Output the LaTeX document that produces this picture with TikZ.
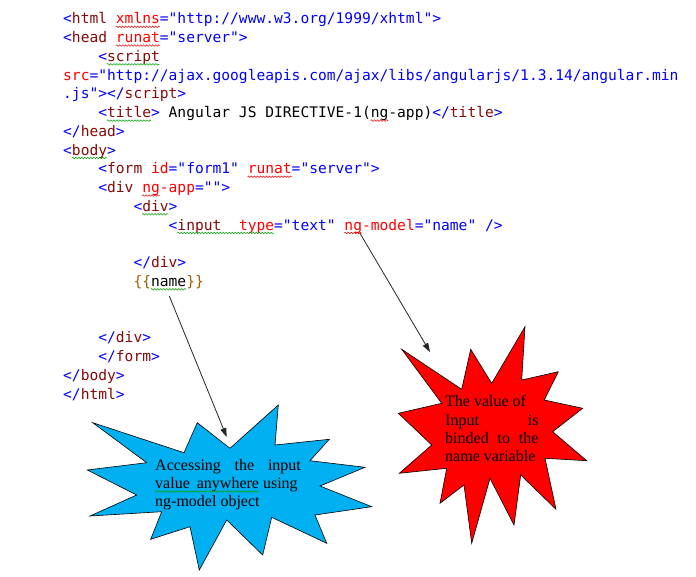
\documentclass[tikz,border=0pt]{standalone}
\usepackage{fontspec}
\setmainfont{Liberation Serif}
\newfontfamily\codefont{DejaVu Sans Mono}
\usetikzlibrary{arrows.meta,decorations.pathmorphing}
\definecolor{tagblue}{RGB}{0,0,255}
\definecolor{tagname}{RGB}{135,10,10}
\definecolor{attrred}{RGB}{255,0,0}
\definecolor{braceorg}{RGB}{160,95,0}
\definecolor{starblue}{RGB}{0,176,240}
\definecolor{starred}{RGB}{255,0,0}
\definecolor{squigG}{RGB}{0,160,0}
\definecolor{squigR}{RGB}{230,0,0}
\newcommand\hB[1]{\textcolor{tagblue}{#1}}
\newcommand\hM[1]{\textcolor{tagname}{#1}}
\newcommand\hR[1]{\textcolor{attrred}{#1}}
\newcommand\hO[1]{\textcolor{braceorg}{#1}}
\tikzset{
  codeline/.style={anchor=base west, inner sep=0pt, font=\codefont\fontsize{14.6}{18}\selectfont\frenchspacing},
  startext/.style={anchor=base west, inner sep=0pt, font=\fontsize{16}{18}\selectfont},
  squig/.style={line width=0.5pt, decorate, decoration={snake, amplitude=0.8pt, segment length=3pt}},
  bluestar/.style={fill=starblue, draw=black, line width=0.6pt, line join=miter},
  redstar/.style={fill=starred, draw=black, line width=0.6pt, line join=miter},
  pointer/.style={draw=black!85, line width=0.8pt, -{Triangle[length=9pt,width=6pt]}}
}
\newcommand\codeln[4]{\node[codeline] (#1) at ({63+#2*8.79},{24+#3*18.75}) {#4};}
\newcommand\squigl[4]{\draw[squig,#1] ({63+#2*8.79},{26.8+#4*18.75}) -- ({63+(#2+#3)*8.79},{26.8+#4*18.75});}
\begin{document}
\begin{tikzpicture}[x=1pt,y=-1pt]
\useasboundingbox (0,0) rectangle (696,577);
\fill[white] (0,0) rectangle (696,577);

% code lines
\codeln{l0}{0}{0}{\hB{<}\hM{html} \hR{xmlns}\hB{="http://www.w3.org/1999/xhtml">}}
\codeln{l1}{0}{1}{\hB{<}\hM{head} \hR{runat}\hB{="server">}}
\codeln{l2}{4}{2}{\hB{<}\hM{script}}
\codeln{l3}{0}{3}{\hR{src}\hB{="http://ajax.googleapis.com/ajax/libs/angularjs/1.3.14/angular.min}}
\codeln{l4}{0}{4}{\hB{.js"></}\hM{script}\hB{>}}
\codeln{l5}{4}{5}{\hB{<}\hM{title}\hB{>} Angular JS DIRECTIVE-1(ng-app)\hB{</}\hM{title}\hB{>}}
\codeln{l6}{0}{6}{\hB{</}\hM{head}\hB{>}}
\codeln{l7}{0}{7}{\hB{<}\hM{body}\hB{>}}
\codeln{l8}{4}{8}{\hB{<}\hM{form} \hR{id}\hB{="form1"} \hR{runat}\hB{="server">}}
\codeln{l9}{4}{9}{\hB{<}\hM{div} \hR{ng-app}\hB{="">}}
\codeln{l10}{8}{10}{\hB{<}\hM{div}\hB{>}}
\codeln{l11}{12}{11}{\hB{<}\hM{input}\ \ \hR{type}\hB{="text"} \hR{ng-model}\hB{="name"} \hB{/>}}
\codeln{l13}{8}{13}{\hB{</}\hM{div}\hB{>}}
\codeln{l14}{8}{14}{\hO{\{\{}name\hO{\}\}}}
\codeln{l17}{4}{17}{\hB{</}\hM{div}\hB{>}}
\codeln{l18}{4}{18}{\hB{</}\hM{form}\hB{>}}
\codeln{l19}{0}{19}{\hB{</}\hM{body}\hB{>}}
\codeln{l20}{0}{20}{\hB{</}\hM{html}\hB{>}}

% spelling squiggles
\squigl{squigR}{6}{5}{0}
\squigl{squigR}{6}{5}{1}
\squigl{squigG}{5}{6}{2}
\squigl{squigG}{5}{5}{5}
\squigl{squigR}{35}{2}{5}
\squigl{squigG}{1}{4}{7}
\squigl{squigR}{21}{5}{8}
\squigl{squigR}{9}{2}{9}
\squigl{squigG}{9}{3}{10}
\squigl{squigG}{13}{11}{11}
\squigl{squigR}{32}{2}{11}
\squigl{squigG}{10}{4}{14}

% blue star
\draw[bluestar] (92.7,422.7) -- (184,452.7) -- (197.3,422.7) -- (230,448.3) -- (278.3,405) -- (275,445) -- (329.3,439.3) -- (310,460.7) -- (365,467.3) -- (320,486) -- (371.7,506.7) -- (315,515) -- (326.7,543.3) -- (271.7,517.3) -- (262.7,555) -- (226.7,520) -- (199.3,570) -- (190,526.7) -- (150.7,539.3) -- (161.7,511.7) -- (90,516) -- (136.7,495) -- (87.3,470) -- (146.7,462.7) -- cycle;

% red star
\draw[redstar] (401.7,349.3) -- (461.7,389.3) -- (470.7,349.3) -- (491.7,383.3) -- (525,326.7) -- (521.7,380) -- (558.3,371.7) -- (544.3,400) -- (582.7,408.3) -- (552.7,431.7) -- (586.7,460.7) -- (545,458.3) -- (556,509.3) -- (520.7,475) -- (514,525) -- (490,478.3) -- (471.7,543.3) -- (464,485) -- (440,503.3) -- (446.7,468.3) -- (399.3,473.3) -- (431.7,445) -- (398.3,413.3) -- (441.7,403.3) -- cycle;

% blue star text
\node[startext] (b1) at (155,470.5) {\makebox[145.7pt][s]{Accessing the input}};
\node[startext] (b2) at (155,488.3) {value\hspace{7pt}anywhere using};
\node[startext] (b3) at (155,506) {ng-model object};
\draw[squig,squigG] (155,491.5) -- (259,491.5);

% red star text
\node[startext] (r1) at (445,406.7) {The value of};
\node[startext] (r2) at (445,425) {\makebox[93.3pt][s]{Input\hfill is}};
\node[startext] (r3) at (445,443.3) {\makebox[93.3pt][s]{binded to the}};
\node[startext] (r4) at (445,461.7) {name variable};

% pointers
\coordinate (p1s) at (169.3,296);
\coordinate (p1e) at (226.7,437);
\coordinate (p2s) at (360,233.3);
\coordinate (p2e) at (430,352);
\draw[pointer] (p1s) -- (p1e);
\draw[pointer] (p2s) -- (p2e);
\end{tikzpicture}
\end{document}
